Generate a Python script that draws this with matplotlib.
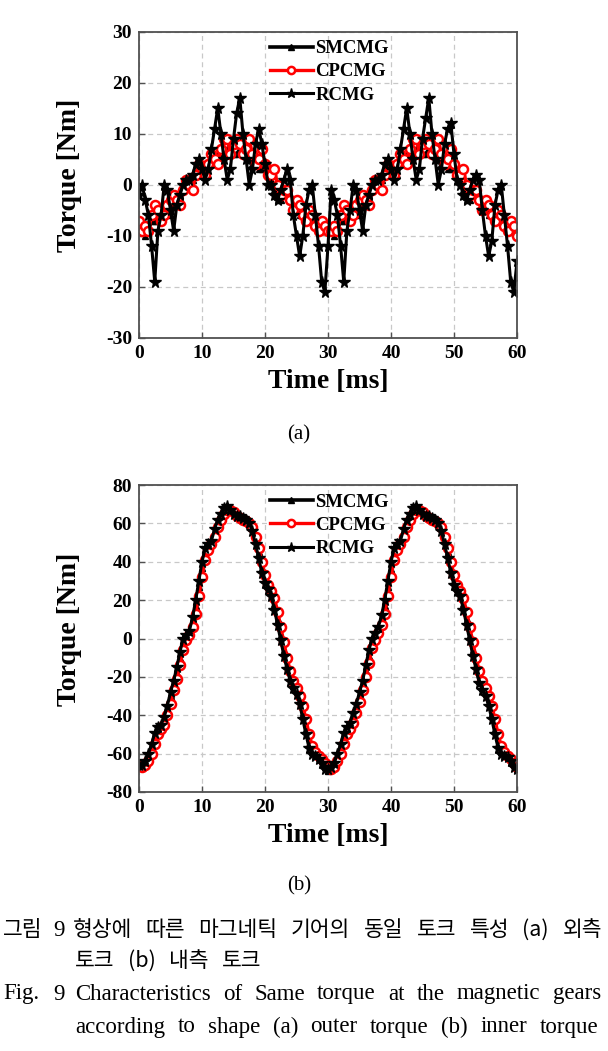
import numpy as np
import matplotlib
matplotlib.use("Agg")
import matplotlib.pyplot as plt

plt.rcParams["axes.unicode_minus"] = False

# ---------------- data ----------------
# (a) outer torque [Nm], sampled every 0.5 ms from 0 to 60 ms
outer_smcmg = [-8, -9, -10, -9, -7, -7, -7, -7, -6, -5, -6, -4, -3, -2, -1, 0, 0, 1, 2, 3,
               3, 3, 2, 4, 5, 6, 6, 6, 7, 7, 6, 6, 7, 7, 6, 5, 4, 5, 3, 3,
               3, 2, 1, -1, -3, -3, -2, -1, -2, -4, -5, -6, -6, -7, -6, -7, -8, -9, -9, -9,
               -9,
               -9, -10, -9, -7, -7, -7, -7, -6, -5, -6, -4, -3, -2, -1, 0, 0, 1, 2, 3,
               3, 3, 2, 4, 5, 6, 6, 6, 7, 7, 6, 6, 7, 7, 6, 5, 4, 5, 3, 3,
               3, 2, 1, -1, -3, -3, -2, -1, -2, -4, -5, -6, -6, -7, -6, -7, -8, -9, -9, -9,
               -10]
outer_cpcmg = [-7, -9, -8, -9, -6, -4, -5, -7, -6, -4, -3, -2, -3, -4, -1, 1, 0, -1, 2, 4,
               3, 2, 4, 6, 5, 4, 7, 9, 9, 6, 8, 9, 8, 6, 7, 9, 6, 4, 5, 7,
               4, 2, 2, 3, 0, -2, -1, -1, -3, -5, -3, -4, -6, -7, -5, -6, -8, -9, -7, -8,
               -9,
               -9, -8, -9, -6, -4, -5, -7, -6, -4, -3, -2, -3, -4, -1, 1, 0, -1, 2, 4,
               3, 2, 4, 6, 5, 4, 7, 9, 9, 6, 8, 9, 8, 6, 7, 9, 6, 4, 5, 7,
               4, 2, 2, 3, 0, -2, -1, -1, -3, -5, -3, -4, -6, -7, -5, -6, -8, -9, -7, -8,
               -10]
outer_rcmg = [-2, 0, -3, -6, -12, -19, -9, -6, 0, -1, -5, -9, -4, -2, 0, 1, 1, 2, 4, 5,
              3, 1, 3, 7, 11, 15, 10, 5, 1, 3, 9, 14, 17, 10, 5, 0, 3, 8, 11, 8,
              4, 0, 0, -2, -3, -1, 1, 3, 1, -6, -10, -14, -10, -4, -1, 0, -6, -12, -19, -21,
              -12,
              -1, -3, -6, -12, -19, -9, -5, 0, -1, -5, -9, -4, -2, 0, 1, 1, 2, 4, 5,
              3, 1, 3, 7, 11, 15, 10, 5, 1, 3, 9, 13, 17, 10, 5, 0, 3, 8, 11, 12,
              6, 1, 0, -2, -3, -1, 1, 2, 1, -5, -10, -14, -11, -4, -1, 0, -6, -12, -19, -21,
              -15]

# (b) inner torque [Nm], sampled every 0.5 ms from 0 to 60 ms
inner_smcmg = [-67, -67, -65, -62, -57, -51, -47, -46, -43, -37, -30, -24, -18, -10, -2, 1, 3, 9, 17, 27,
               37, 45, 48, 50, 55, 60, 64, 67, 69, 68, 66, 65, 64, 63, 63, 62, 58, 52, 45, 37,
               31, 27, 24, 18, 10, 2, -6, -14, -20, -25, -28, -32, -39, -47, -55, -59, -61, -62, -64, -67,
               -69,
               -68, -66, -62, -57, -51, -47, -45, -41, -36, -30, -24, -17, -9, -2, 2, 5, 10, 17, 27,
               36, 45, 48, 50, 55, 60, 64, 67, 69, 68, 66, 65, 64, 63, 63, 62, 58, 52, 45, 37,
               30, 26, 24, 18, 10, 2, -6, -14, -22, -26, -29, -33, -39, -47, -55, -59, -61, -62, -63, -66,
               -68]
inner_cpcmg = [-66, -67, -66, -64, -60, -55, -50, -47, -45, -40, -34, -27, -21, -14, -6, -1, 2, 6, 13, 22,
               32, 41, 46, 49, 53, 58, 62, 65, 67, 67, 66, 64, 63, 62, 61, 60, 58, 53, 47, 40,
               33, 28, 25, 21, 14, 6, -2, -10, -17, -22, -26, -30, -35, -42, -50, -56, -59, -61, -63, -65,
               -67,
               -68, -67, -64, -60, -55, -50, -47, -44, -39, -33, -27, -20, -13, -5, -1, 3, 7, 13, 22,
               32, 41, 46, 49, 53, 58, 62, 65, 67, 67, 66, 64, 63, 62, 61, 60, 58, 53, 47, 40,
               33, 28, 25, 21, 14, 6, -2, -10, -17, -22, -26, -30, -35, -42, -50, -56, -59, -61, -63, -65,
               -67]
inner_rcmg = [-66, -66, -64, -60, -55, -49, -46, -45, -41, -35, -28, -22, -15, -7, 0, 2, 4, 11, 20, 30,
              40, 47, 49, 51, 57, 62, 65, 68, 69, 67, 65, 64, 64, 63, 62, 60, 56, 49, 42, 34,
              29, 26, 22, 15, 7, -1, -9, -16, -22, -26, -29, -34, -42, -50, -57, -60, -61, -63, -65, -68,
              -68,
              -67, -65, -60, -55, -49, -46, -44, -39, -34, -28, -22, -14, -6, 0, 3, 6, 12, 20, 30,
              40, 47, 49, 51, 57, 62, 65, 68, 69, 67, 65, 64, 64, 63, 62, 60, 56, 49, 42, 34,
              28, 25, 22, 15, 7, -1, -9, -16, -23, -27, -30, -35, -42, -50, -57, -60, -61, -62, -64, -67,
              -68]

series_names = ["SMCMG", "CPCMG", "RCMG"]
time_end = 60
x_ticks = [0, 10, 20, 30, 40, 50, 60]
y_ticks_a = [-30, -20, -10, 0, 10, 20, 30]
y_ticks_b = [-80, -60, -40, -20, 0, 20, 40, 60, 80]

caption_ko_1 = "형상에 따른 마그네틱 기어의 동일 토크 특성 (a) 외측"
caption_ko_2 = "토크 (b) 내측 토크"
caption_en_1 = "Characteristics of Same torque at the magnetic gears"
caption_en_2 = "according to shape (a) outer torque (b) inner torque"

# ---------------- figure ----------------
W, H = 608, 1051
fig = plt.figure(figsize=(W / 100, H / 100), dpi=100)
SERIF = ["Liberation Serif", "DejaVu Serif"]
bold = dict(family=SERIF, weight="bold")


def px_axes(left, top, right, bottom):
    return fig.add_axes([left / W, 1 - bottom / H, (right - left) / W, (bottom - top) / H])


ax_a = px_axes(139, 31.5, 517, 338)
ax_b = px_axes(139, 485, 517, 792)

styles = [
    dict(color="black", marker="^", ms=5, mfc="black", mec="black", lw=2.6),
    dict(color="#ff0000", marker="o", ms=6.5, mfc="white", mec="#ff0000", mew=1.8, lw=2.4),
    dict(color="black", marker="*", ms=8.5, mfc="black", mec="black", lw=2.2),
]


def draw(ax, data, yticks, ylim):
    for name, vals, st in zip(series_names, data, styles):
        t = np.linspace(0, time_end, len(vals))
        ax.plot(t, vals, label=name, **st)
    ax.set_xlim(0, time_end)
    ax.set_ylim(*ylim)
    ax.set_xticks(x_ticks)
    ax.set_yticks(yticks)
    ax.grid(True, ls=(0, (4, 3)), color="#c8c8c8", lw=0.9)
    ax.set_axisbelow(True)
    for s in ax.spines.values():
        s.set_color("#505050")
        s.set_linewidth(1.3)
    ax.tick_params(direction="in", length=4, width=1, color="#505050",
                   top=False, right=False, pad=5)
    for lab in ax.get_xticklabels() + ax.get_yticklabels():
        lab.set_fontproperties(dict(family=SERIF, weight="bold", size=14))
    ax.set_xlabel("Time [ms]", fontsize=20, **bold)
    ax.set_ylabel("Torque [Nm]", fontsize=20, **bold)
    ax.xaxis.set_label_coords(0.5, -0.10)
    ax.yaxis.set_label_coords(-0.15, 0.53)
    leg = ax.legend(loc="upper left", bbox_to_anchor=(0.323, 1.0), frameon=False,
                    prop=dict(family=SERIF, weight="bold", size=13.5),
                    handlelength=2.3, handletextpad=0.15, labelspacing=0.33,
                    borderaxespad=0.0, borderpad=0.45, numpoints=1, markerscale=0.8)
    return leg


draw(ax_a, [outer_smcmg, outer_cpcmg, outer_rcmg], y_ticks_a, (-30, 30))
draw(ax_b, [inner_smcmg, inner_cpcmg, inner_rcmg], y_ticks_b, (-80, 80))

fig.text(299 / W, 1 - 435 / H, "(a)", ha="center", va="center", family=SERIF, fontsize=15)
fig.text(299 / W, 1 - 886 / H, "(b)", ha="center", va="center", family=SERIF, fontsize=15)

# ---------------- caption ----------------
KO = dict(family=["Noto Sans CJK KR", "DejaVu Sans"], fontsize=15.5)
EN = dict(family=SERIF, fontsize=16.5)


def place_words(words, ypx, x0, x1, props, gap=None):
    texts = [fig.text(0, 1 - ypx / H, w, ha="left", va="center", **props) for w in words]
    fig.canvas.draw()
    r = fig.canvas.get_renderer()
    widths = [t.get_window_extent(r).width for t in texts]
    if gap is None:
        gap = ((x1 - x0) - sum(widths)) / max(len(words) - 1, 1)
    x = x0
    for t, w in zip(texts, widths):
        t.set_x(x / W)
        x += w + gap
    return gap


fig.text(3 / W, 1 - 930 / H, "그림", ha="left", va="center", **KO)
fig.text(53 / W, 1 - 930 / H, "9", ha="left", va="center", **EN)
g = place_words(caption_ko_1.split(), 930, 73, 602, KO)
place_words(caption_ko_2.split(), 961, 75, 0, KO, gap=g)

fig.text(3 / W, 1 - 994 / H, "Fig.", ha="left", va="center", **EN)
fig.text(53 / W, 1 - 994 / H, "9", ha="left", va="center", **EN)
place_words(caption_en_1.split(), 994, 75, 601, EN)
place_words(caption_en_2.split(), 1027, 75, 598, EN)

fig.savefig("out.png", dpi=100)
